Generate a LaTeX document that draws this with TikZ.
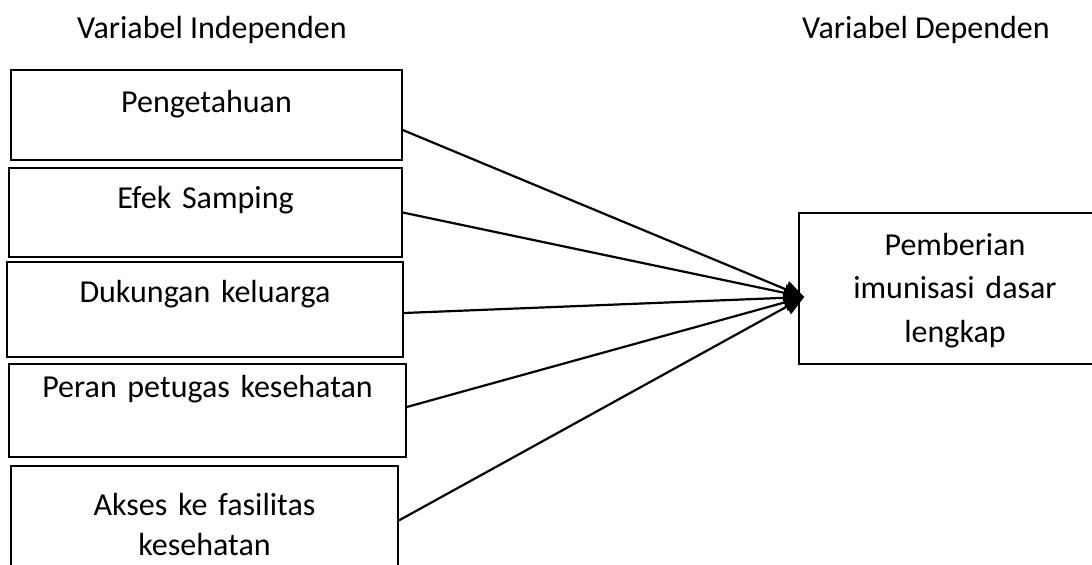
\documentclass[tikz,border=0pt]{standalone}
\usepackage{fontspec}
\setmainfont{Carlito}
\usetikzlibrary{arrows.meta}
\tikzset{
  kotak/.style={draw, line width=0.75pt, inner sep=0pt, align=center},
  panah/.style={line width=1.1pt, -{Triangle[length=10pt,width=8.5pt]}}
}

\begin{document}
\begin{tikzpicture}[x=0.5pt,y=-0.5pt,font=\fontsize{16}{21}\selectfont]
    \useasboundingbox (0,0) rectangle (1092,564);
    \node[anchor=base] (judulbebas) at (212,38) {Variabel Independen};
    \node[anchor=base] (judulterikat) at (926,38) {Variabel Dependen};
    \node[kotak, text width=195.5pt, text height=21pt, text depth=24pt] (tahu) at (206.5,115) {Pengetahuan};
    \node[kotak, text width=196.5pt, text height=20pt, text depth=24.5pt] (efek) at (205.5,212.5) {Efek Samping};
    \node[kotak, text width=198pt, text height=20pt, text depth=27.5pt] (dukungan) at (205,309.5) {Dukungan keluarga};
    \node[kotak, text width=198.5pt, text height=16.5pt, text depth=30pt] (petugas) at (207.5,410.5) {Peran petugas kesehatan};
    \node[kotak, text width=193.5pt, text height=24.5pt, text depth=30pt, font=\fontsize{16}{20}\selectfont] (akses) at (204.5,520.5) {Akses ke fasilitas\\kesehatan};
    \node[kotak, text width=156pt, text height=21pt, text depth=54.5pt, font=\fontsize{16}{21.75}\selectfont] (imunisasi) at (955,288.5) {Pemberian\\imunisasi dasar\\lengkap};
    \draw[panah] ([yshift=-7.5pt]tahu.east) -- ([xshift=3pt,yshift=-4.25pt]imunisasi.west);
    \draw[panah] (efek.east) -- ([xshift=3pt,yshift=-4.25pt]imunisasi.west);
    \draw[panah] ([yshift=-1.75pt]dukungan.east) -- ([xshift=3pt,yshift=-4.25pt]imunisasi.west);
    \draw[panah] ([yshift=1.75pt]petugas.east) -- ([xshift=3pt,yshift=-4.25pt]imunisasi.west);
    \draw[panah] (akses.east) -- ([xshift=3pt,yshift=-4.25pt]imunisasi.west);
\end{tikzpicture}
\end{document}
